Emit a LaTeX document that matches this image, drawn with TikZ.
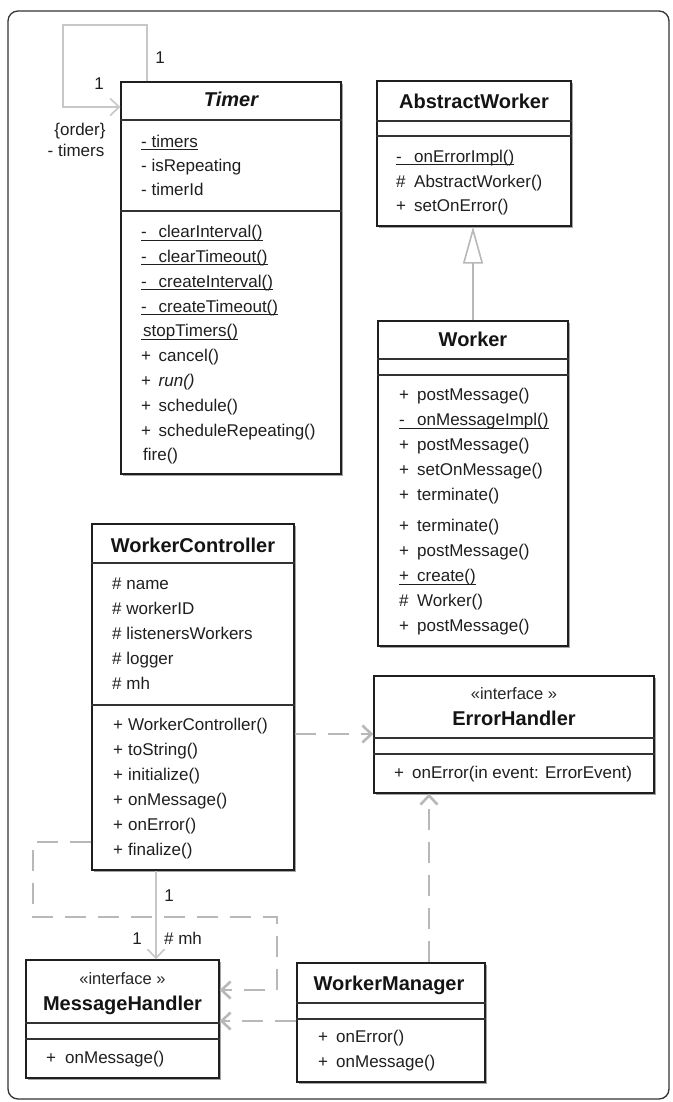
\documentclass[tikz,border=0pt]{standalone}
\usepackage{fontspec}
\setmainfont{Liberation Sans}
\usetikzlibrary{arrows.meta,shadows}

% visibility marker in a fixed-width column
\newcommand\mk[2][17.5pt]{\makebox[#1][l]{#2}}
% underline for static members
\newcommand\ulin[1]{\setbox0\hbox{#1}\rlap{\rule[-2.8pt]{\wd0}{1pt}}\box0}
% row strut: 17pt above the baseline, 6pt below
\newcommand\rs{\rule[-6pt]{0pt}{23pt}}

\tikzset{
  frame/.style={draw=black!80, line width=1.3pt, rounded corners=10pt, inner sep=0pt},
  cls/.style={draw=black!88, line width=1.4pt, fill=white, inner sep=0pt,
    drop shadow={shadow xshift=2.2pt, shadow yshift=-2.2pt, fill=black!45, opacity=0.8}},
  sep/.style={draw=black!80, line width=1.2pt},
  rows/.style={anchor=north west, inner sep=0pt, align=left, text=black!88,
    font=\fontsize{17}{25}\selectfont},
  ttl/.style={anchor=base, inner sep=0pt, text=black!92,
    font=\fontsize{20}{24}\selectfont\bfseries},
  stereo/.style={anchor=base, inner sep=0pt, text=black!85,
    font=\fontsize{16.5}{20}\selectfont},
  lbl/.style={anchor=base, inner sep=0pt, text=black!88,
    font=\fontsize{17}{20}\selectfont},
  assoc/.style={draw=black!22, line width=1.6pt},
  gen/.style={draw=black!28, line width=2.4pt},
  dep/.style={draw=black!28, line width=2.6pt, dash pattern=on 21pt off 12pt},
  barb/.tip={Straight Barb[length=9pt,width=17pt]},
  hollow/.tip={Triangle[open,length=37pt,width=20pt,line width=1.6pt,fill=white]}
}

\begin{document}
\begin{tikzpicture}[x=1pt,y=-1pt]
\useasboundingbox (0,0) rectangle (672,1102);
\node[frame, minimum width=661pt, minimum height=1088pt] (frame) at (338.5,555) {};

% ---------------- Timer ----------------
\node[cls, minimum width=220pt, minimum height=392pt] (timer) at (231,278) {};
\draw[sep] (timer.west |- 0,120) -- (timer.east |- 0,120);
\draw[sep] (timer.west |- 0,211) -- (timer.east |- 0,211);
\node[ttl] (timerT) at (231,107) {\itshape Timer};
\node[rows, font=\fontsize{17}{24}\selectfont] (timerA) at (141,130)
  {\rs\ulin{- timers}\\ \rs- isRepeating\\ \rs- timerId};
\node[rows, font=\fontsize{17}{24.8}\selectfont] (timerM) at (141,220.5)
  {\rs\ulin{\mk{-}clearInterval()}\\
   \rs\ulin{\mk{-}clearTimeout()}\\
   \rs\ulin{\mk{-}createInterval()}\\
   \rs\ulin{\mk{-}createTimeout()}\\
   \rs\ulin{\hspace*{2pt}stopTimers()}\\
   \rs\mk{+}cancel()\\
   \rs\mk{+}\textit{run()}\\
   \rs\mk{+}schedule()\\
   \rs\mk{+}scheduleRepeating()\\
   \rs\hspace*{2pt}fire()};

% ---------------- AbstractWorker ----------------
\node[cls, minimum width=194pt, minimum height=145pt] (aw) at (474,153.5) {};
\draw[sep] (aw.west |- 0,121) -- (aw.east |- 0,121);
\draw[sep] (aw.west |- 0,136) -- (aw.east |- 0,136);
\node[ttl] (awT) at (474,109) {AbstractWorker};
\node[rows, font=\fontsize{17}{24.5}\selectfont] (awM) at (396,145.5)
  {\rs\ulin{\mk[18pt]{-}onErrorImpl()}\\
   \rs\mk[18pt]{\#}AbstractWorker()\\
   \rs\mk[18pt]{+}setOnError()};

% ---------------- Worker ----------------
\node[cls, minimum width=190pt, minimum height=325pt] (worker) at (473,483.5) {};
\draw[sep] (worker.west |- 0,359) -- (worker.east |- 0,359);
\draw[sep] (worker.west |- 0,375) -- (worker.east |- 0,375);
\node[ttl] (workerT) at (473,346) {Worker};
\node[rows] (workerM) at (399,383.5)
  {\rs\mk[18pt]{+}postMessage()\\
   \rs\ulin{\mk[18pt]{-}onMessageImpl()}\\
   \rs\mk[18pt]{+}postMessage()\\
   \rs\mk[18pt]{+}setOnMessage()\\
   \rs\mk[18pt]{+}terminate()\\[6pt]
   \rs\mk[18pt]{+}terminate()\\
   \rs\mk[18pt]{+}postMessage()\\
   \rs\ulin{\mk[18pt]{+}create()}\\
   \rs\mk[18pt]{\#}Worker()\\
   \rs\mk[18pt]{+}postMessage()};

% ---------------- WorkerController ----------------
\node[cls, minimum width=202pt, minimum height=346pt] (wc) at (193,697) {};
\draw[sep] (wc.west |- 0,563) -- (wc.east |- 0,563);
\draw[sep] (wc.west |- 0,705) -- (wc.east |- 0,705);
\node[ttl] (wcT) at (193,552) {WorkerController};
\node[rows] (wcA) at (112,572.5)
  {\rs\# name\\ \rs\# workerID\\ \rs\# listenersWorkers\\ \rs\# logger\\ \rs\# mh};
\node[rows] (wcM) at (113,713.5)
  {\rs\mk[15pt]{+}WorkerController()\\
   \rs\mk[15pt]{+}toString()\\
   \rs\mk[15pt]{+}initialize()\\
   \rs\mk[15pt]{+}onMessage()\\
   \rs\mk[15pt]{+}onError()\\
   \rs\mk[15pt]{+}finalize()};

% ---------------- ErrorHandler ----------------
\node[cls, minimum width=280pt, minimum height=117pt] (eh) at (514,734.5) {};
\draw[sep] (eh.west |- 0,738) -- (eh.east |- 0,738);
\draw[sep] (eh.west |- 0,754) -- (eh.east |- 0,754);
\node[stereo] (ehS) at (514,699.5) {«interface »};
\node[ttl] (ehT) at (514,725) {ErrorHandler};
\node[rows] (ehM) at (394,761.5)
  {\rs\mk[18pt]{+}onError(in event: ErrorEvent)};

% ---------------- MessageHandler ----------------
\node[cls, minimum width=193pt, minimum height=118pt] (mh) at (122.5,1019) {};
\draw[sep] (mh.west |- 0,1023) -- (mh.east |- 0,1023);
\draw[sep] (mh.west |- 0,1039) -- (mh.east |- 0,1039);
\node[stereo] (mhS) at (122.5,984.5) {«interface »};
\node[ttl] (mhT) at (122.5,1010) {MessageHandler};
\node[rows] (mhM) at (46,1046.5) {\rs\mk[19pt]{+}onMessage()};

% ---------------- WorkerManager ----------------
\node[cls, minimum width=188pt, minimum height=119pt] (wm) at (391,1022.5) {};
\draw[sep] (wm.west |- 0,1003) -- (wm.east |- 0,1003);
\draw[sep] (wm.west |- 0,1019) -- (wm.east |- 0,1019);
\node[ttl] (wmT) at (389,990) {WorkerManager};
\node[rows] (wmM) at (318,1025.5)
  {\rs\mk[18pt]{+}onError()\\ \rs\mk[18pt]{+}onMessage()};

% ---------------- connectors ----------------
% Timer self association
\draw[assoc, -{barb}] (147,0 |- timer.north) -- (147,25) -- (63,25) -- (63,107)
  -- (timer.west |- 0,107);
\node[lbl] (tm1) at (160,64) {1};
\node[lbl] (tm2) at (99,90) {1};
\node[lbl] (tmo) at (80,136) {\{order\}};
\node[lbl] (tmr) at (76,157) {- timers};

% Worker generalizes AbstractWorker
\draw[gen, -{hollow}] (worker.north) -- (worker.north |- aw.south);

% WorkerController uses ErrorHandler
\draw[dep, -{barb}] (wc.east |- 0,734) -- (eh.west |- 0,734);

% WorkerManager realizes ErrorHandler
\draw[dep, -{barb}] (429,0 |- wm.north) -- (429,0 |- eh.south);

% WorkerController association to MessageHandler
\draw[assoc, -{barb}] (156,0 |- wc.south) -- (156,0 |- mh.north);
\node[lbl] (am1) at (169,901) {1};
\node[lbl] (am2) at (137,944) {1};
\node[lbl] (amr) at (183,944) {\# mh};

% WorkerController realizes MessageHandler
\draw[dep, -{barb}] (wc.west |- 0,842) -- (33,842) -- (33,917) -- (277,917)
  -- (277,990) -- (mh.east |- 0,990);

% WorkerManager realizes MessageHandler
\draw[dep, -{barb}] (wm.west |- 0,1021) -- (mh.east |- 0,1021);
\end{tikzpicture}
\end{document}
